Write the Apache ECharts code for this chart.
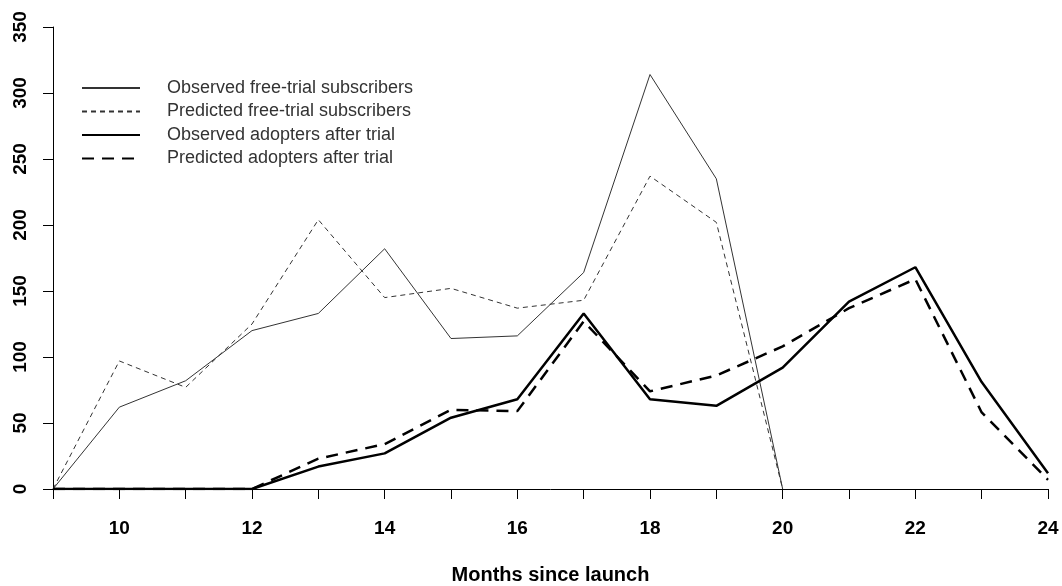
<!DOCTYPE html>
<html>
<head>
<meta charset="utf-8">
<script src="https://cdn.jsdelivr.net/npm/echarts@6/dist/echarts.min.js"></script>
<style>
  html, body {margin: 0; padding: 0; background: #fff;}
  #main {width: 1062px; height: 586px;}
</style>
</head>
<body>
<div id="main"></div>
<script>
// months since launch
const months = [9, 10, 11, 12, 13, 14, 15, 16, 17, 18, 19, 20, 21, 22, 23, 24];
// free-trial series stop at month 20
const obsTrial = [0, 62, 82, 120, 133, 182, 114, 116, 164, 314, 235, 0];
const predTrial = [0, 97, 77, 125, 204, 145, 152, 137, 143, 237, 202, 0];
const obsAdopt = [0, 0, 0, 0, 17, 27, 54, 68, 133, 68, 63, 92, 142, 168, 81, 12];
const predAdopt = [0, 0, 0, 0, 23, 34, 60, 59, 127, 74, 86, 108, 137, 159, 58, 7];
const names = [
    'Observed free-trial subscribers',
    'Predicted free-trial subscribers',
    'Observed adopters after trial',
    'Predicted adopters after trial'
];

const pairs = vals => vals.map((v, i) => [months[i], v]);
const font = 'Liberation Sans, Arial, sans-serif';

const line = (name, vals, color, width, type) => ({
    name: name,
    type: 'line',
    data: pairs(vals),
    symbol: 'none',
    lineStyle: {color: color, width: width, type: type},
    itemStyle: {color: color}
});

const chart = echarts.init(document.getElementById('main'));
chart.setOption({
    animation: false,
    grid: {left: 53, right: 14, top: 27, bottom: 97, outerBoundsMode: 'none'},
    legend: {
        orient: 'vertical',
        left: 76,
        top: 74,
        itemWidth: 58,
        itemHeight: 12,
        itemGap: 5.5,
        itemStyle: {opacity: 0},
        textStyle: {color: '#333', fontFamily: font, fontSize: 18, padding: [0, 0, 0, 22]},
        data: names
    },
    xAxis: {
        type: 'value',
        min: 9,
        max: 24,
        interval: 1,
        splitLine: {show: false},
        axisLine: {lineStyle: {color: '#000', width: 1}},
        axisTick: {length: 10, lineStyle: {color: '#000'}},
        axisLabel: {
            color: '#000',
            fontFamily: font,
            fontSize: 19,
            fontWeight: 'bold',
            margin: 30,
            formatter: v => (v % 2 === 0 ? String(v) : '')
        },
        name: 'Months since launch',
        nameLocation: 'middle',
        nameGap: 76,
        nameTextStyle: {color: '#000', fontFamily: font, fontSize: 20, fontWeight: 'bold'}
    },
    yAxis: {
        type: 'value',
        min: 0,
        max: 350,
        interval: 50,
        splitLine: {show: false},
        axisLine: {show: true, lineStyle: {color: '#000', width: 1}},
        axisTick: {show: true, length: 10, lineStyle: {color: '#000'}},
        axisLabel: {
            color: '#000',
            fontFamily: font,
            fontSize: 19,
            fontWeight: 'bold',
            rotate: 90,
            margin: 23
        }
    },
    series: [
        line(names[0], obsTrial, '#333', 1, 'solid'),
        line(names[1], predTrial, '#333', 1, [5, 4]),
        line(names[2], obsAdopt, '#000', 2.5, 'solid'),
        line(names[3], predAdopt, '#000', 2.5, [12, 8])
    ]
});
</script>
</body>
</html>
